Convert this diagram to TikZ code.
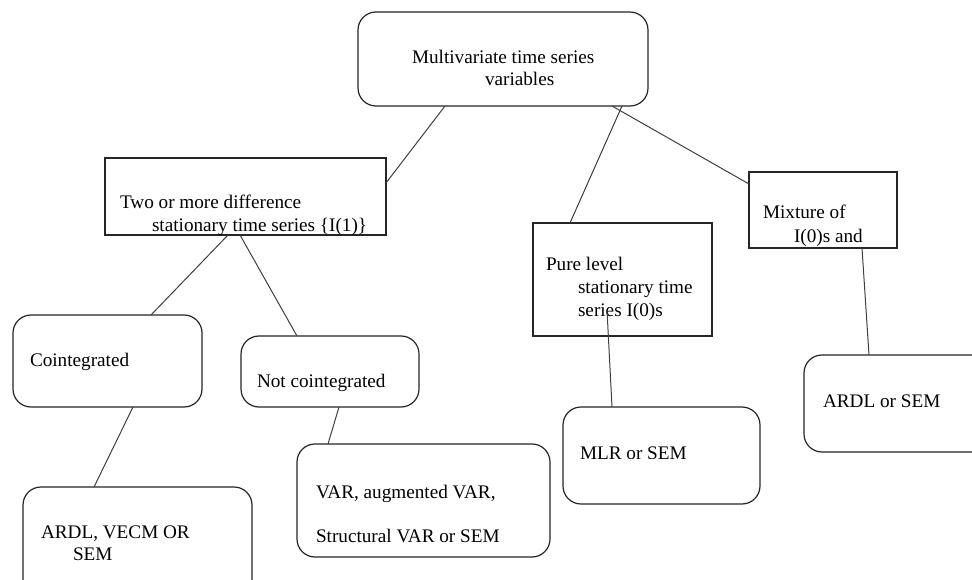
\documentclass[tikz,border=0pt]{standalone}
\usepackage{fontspec}
\setmainfont{Liberation Serif}
\usetikzlibrary{calc}
\begin{document}
\begin{tikzpicture}[x=1pt,y=-1pt,
  box/.style={draw=black!85, line width=1.2pt, inner sep=0pt, outer sep=0pt, anchor=north west},
  rbox/.style={box, rounded corners=18pt},
  lbl/.style={anchor=base west, inner sep=0pt, outer sep=0pt, font=\fontsize{19.2}{22}\selectfont},
  conn/.style={draw=black!75, line width=1pt}]
\clip (0,0) rectangle (972,580);
\fill[white] (0,0) rectangle (972,580);
% boxes
\node[rbox, minimum width=290pt, minimum height=94pt] (top) at (358,12) {};
\node[box, minimum width=281pt, minimum height=77pt] (two) at (105,158) {};
\node[box, minimum width=179pt, minimum height=113pt] (pure) at (533,223) {};
\node[box, minimum width=148pt, minimum height=76pt] (mix) at (749,172) {};
\node[rbox, minimum width=189pt, minimum height=92pt] (coint) at (13,315) {};
\node[rbox, minimum width=178pt, minimum height=71pt] (notc) at (241,336) {};
\node[rbox, minimum width=229pt, minimum height=110pt] (ardlv) at (23,487) {};
\node[rbox, minimum width=253pt, minimum height=113pt] (var) at (297,444) {};
\node[rbox, minimum width=197pt, minimum height=97pt] (mlr) at (563,407) {};
\node[rbox, minimum width=200pt, minimum height=97pt] (ardls) at (804,355) {};
% texts
\node[lbl] (t1a) at (412,64) {Multivariate time series};
\node[lbl] (t1b) at (485,86) {variables};
\begin{scope}
\clip (two.north west) rectangle (two.south east);
\node[lbl] (t2a) at (120,209) {Two or more difference};
\node[lbl] (t2b) at (152,232) {stationary time series \{I(1)\}};
\end{scope}
\node[lbl] (t3a) at (546,270) {Pure level};
\node[lbl] (t3b) at (578,293) {stationary time};
\node[lbl] (t3c) at (578,316) {series I(0)s};
\begin{scope}
\clip (mix.north west) rectangle (mix.south east);
\node[lbl] (t4a) at (763,219) {Mixture of};
\node[lbl] (t4b) at (794,243) {I(0)s and};
\end{scope}
\node[lbl] (t5) at (30,366) {Cointegrated};
\node[lbl] (t6) at (257,387) {Not cointegrated};
\node[lbl] (t7a) at (41,538) {ARDL, VECM OR};
\node[lbl] (t7b) at (73,560) {SEM};
\node[lbl] (t8a) at (316,498) {VAR, augmented VAR,};
\node[lbl] (t8b) at (316,542) {Structural VAR or SEM};
\node[lbl] (t9) at (580,459) {MLR or SEM};
\node[lbl] (t10) at (823,407) {ARDL or SEM};
% connectors
\coordinate (p1) at (607,310);
\draw[conn] (two.north east |- 0,183) -- (top.south -| 445,0);
\draw[conn] (top.south -| 622,0) -- (pure.north -| 570,0);
\draw[conn] (top.south -| 612,0) -- (mix.north west |- 0,184);
\draw[conn] (two.south -| 228,0) -- (coint.north -| 151,0);
\draw[conn] (two.south -| 240,0) -- (notc.north -| 297,0);
\draw[conn] (coint.south -| 133,0) -- (ardlv.north -| 94,0);
\draw[conn] (notc.south -| 339,0) -- (var.north -| 328,0);
\draw[conn] (p1) -- (mlr.north -| 612,0);
\draw[conn] (mix.south -| 862,0) -- (ardls.north -| 869,0);
\end{tikzpicture}
\end{document}
